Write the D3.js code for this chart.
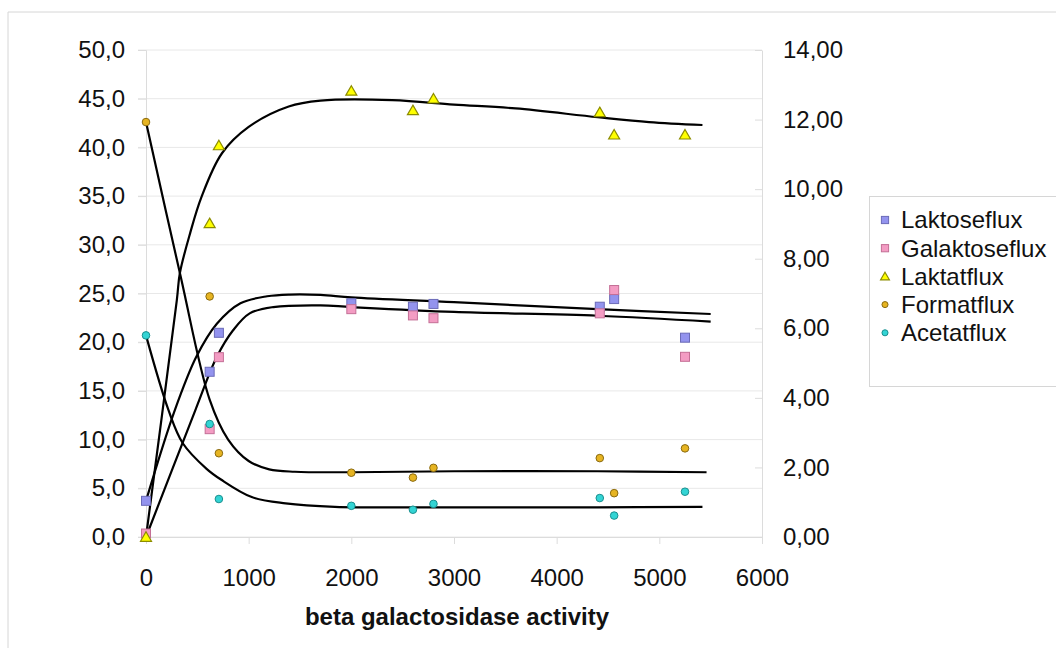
<!DOCTYPE html>
<html>
<head>
<meta charset="utf-8">
<script src="https://cdn.jsdelivr.net/npm/d3@7"></script>
<style>
    body { margin: 0; background: #fff; }
    svg { font-family: "Liberation Sans", Arial, sans-serif; }
</style>
</head>
<body>
<div id="chart"></div>
<script>
// Measured points (x = beta galactosidase activity)
const activity = [0, 620, 710, 2000, 2600, 2800, 4420, 4560, 5250];
// right axis series
const laktoseflux = [1.04, 4.75, 5.87, 6.72, 6.62, 6.70, 6.62, 6.84, 5.73];
const galaktoseflux = [0.1, 3.10, 5.17, 6.55, 6.37, 6.29, 6.43, 7.10, 5.18];
// left axis series
const laktatflux = [0.0, 32.2, 40.2, 45.8, 43.8, 45.0, 43.6, 41.3, 41.3];
const formatflux = [42.6, 24.7, 8.6, 6.6, 6.1, 7.1, 8.1, 4.5, 9.1];
const acetatflux = [20.7, 11.6, 3.9, 3.2, 2.8, 3.4, 4.0, 2.2, 4.65];

// Fitted curves
const laktatFitX = [0, 300, 330, 430, 540, 740, 1000, 1390, 1700, 2400, 3000, 3600, 4400, 4900, 5420];
const laktatFitY = [0, 24.3, 27.1, 31.2, 34.9, 39.4, 42.1, 44.2, 44.8, 44.85, 44.4, 44.0, 43.1, 42.6, 42.3];
const formatFitX = [0, 330, 620, 800, 1000, 1200, 1450, 2000, 3000, 4400, 5460];
const formatFitY = [42.6, 27.1, 14.1, 10.0, 7.8, 6.95, 6.7, 6.65, 6.75, 6.75, 6.65];
const acetatFitX = [0, 220, 360, 590, 730, 1030, 1360, 1840, 3000, 4400, 5420];
const acetatFitY = [20.7, 13.0, 9.6, 7.0, 5.9, 4.1, 3.45, 3.1, 3.05, 3.05, 3.1];
const laktoseFitX = [0, 280, 490, 690, 920, 1180, 1400, 1700, 2000, 3000, 4400, 5500];
const laktoseFitY = [1.04, 3.64, 5.18, 6.13, 6.72, 6.92, 6.97, 6.96, 6.89, 6.75, 6.55, 6.41];
const galaktoseFitX = [0, 480, 690, 850, 1010, 1240, 1700, 2000, 3000, 4400, 5500];
const galaktoseFitY = [0, 3.64, 5.18, 5.95, 6.43, 6.61, 6.66, 6.61, 6.47, 6.36, 6.19];

const leftTicks = d3.range(0, 50.1, 5);
const rightTicks = d3.range(0, 14.1, 2);
const xTicks = d3.range(0, 6001, 1000);

const width = 1056, height = 648;
const margin = {top: 50, right: 294, bottom: 111, left: 146};

const svg = d3.select("#chart").append("svg")
    .attr("width", width)
    .attr("height", height);

// chart area border (top and left edges visible)
svg.append("path")
    .attr("d", `M8,${height}V12H${width}`)
    .attr("fill", "none")
    .attr("stroke", "#d6d6d6");

const x = d3.scaleLinear().domain([0, 6000]).range([margin.left, width - margin.right]);
const yL = d3.scaleLinear().domain([0, 50]).range([height - margin.bottom, margin.top]);
const yR = d3.scaleLinear().domain([0, 14]).range([height - margin.bottom, margin.top]);

const locale = d3.formatLocale({decimal: ",", thousands: "", grouping: [3], currency: ["", ""]});

// gridlines
svg.append("g")
    .selectAll("line")
    .data(leftTicks)
    .enter().append("line")
    .attr("x1", margin.left - 8)
    .attr("x2", width - margin.right)
    .attr("y1", d => yL(d))
    .attr("y2", d => yL(d))
    .attr("stroke", "#e8e8e8");

// left axis
const gl = svg.append("g")
    .attr("transform", `translate(${margin.left},0)`)
    .call(d3.axisLeft(yL).tickValues(leftTicks).tickFormat(locale.format(".1f")).tickSize(8).tickPadding(13));

// right axis with inner ticks
const gr = svg.append("g")
    .attr("transform", `translate(${width - margin.right},0)`)
    .call(d3.axisRight(yR).tickValues(rightTicks).tickFormat(locale.format(".2f")).tickSizeInner(-7).tickSizeOuter(0).tickPadding(21));

// bottom axis
const gx = svg.append("g")
    .attr("transform", `translate(0,${height - margin.bottom})`)
    .call(d3.axisBottom(x).tickValues(xTicks).tickFormat(d3.format("d")).tickSize(7).tickPadding(25));

[gl, gr, gx].forEach(g => {
    g.selectAll("path, line").attr("stroke", "#dcdcdc");
    g.selectAll("text").attr("fill", "#111").style("font-size", "24px");
});

// x axis title
svg.append("text")
    .attr("x", (margin.left + width - margin.right) / 2 + 3)
    .attr("y", 625)
    .attr("text-anchor", "middle")
    .style("font-size", "24px")
    .style("font-weight", "bold")
    .attr("fill", "#111")
    .text("beta galactosidase activity");

// fitted curves
const curves = [
    {xs: laktatFitX, ys: laktatFitY, y: yL},
    {xs: formatFitX, ys: formatFitY, y: yL},
    {xs: acetatFitX, ys: acetatFitY, y: yL},
    {xs: laktoseFitX, ys: laktoseFitY, y: yR},
    {xs: galaktoseFitX, ys: galaktoseFitY, y: yR}
];
curves.forEach(c => {
    const line = d3.line()
        .x((d, i) => x(c.xs[i]))
        .y(d => c.y(d))
        .curve(d3.curveCatmullRom.alpha(0.5));
    svg.append("path")
        .attr("d", line(c.ys))
        .attr("fill", "none")
        .attr("stroke", "#000")
        .attr("stroke-width", 2.2);
});

// series definitions
const series = [
    {name: "Laktoseflux", values: laktoseflux, y: yR, shape: "square", fill: "#9393ee", stroke: "#6b6bb8"},
    {name: "Galaktoseflux", values: galaktoseflux, y: yR, shape: "square", fill: "#f39cc3", stroke: "#c46f96"},
    {name: "Laktatflux", values: laktatflux, y: yL, shape: "triangle", fill: "#ffff00", stroke: "#8c8c00"},
    {name: "Formatflux", values: formatflux, y: yL, shape: "circle", fill: "#e6b422", stroke: "#8a6a10"},
    {name: "Acetatflux", values: acetatflux, y: yL, shape: "circle", fill: "#33d4d4", stroke: "#1a8f8f"}
];

function drawMarker(g, s, cx, cy, scale) {
    if (s.shape === "square") {
        const h = 4.5 * scale;
        g.append("rect").attr("x", cx - h).attr("y", cy - h).attr("width", 2 * h).attr("height", 2 * h)
            .attr("fill", s.fill).attr("stroke", s.stroke).attr("stroke-width", 1);
    } else if (s.shape === "triangle") {
        const w = 5.5 * scale, h = 9.5 * scale;
        g.append("path")
            .attr("d", `M${cx},${cy - h * 0.55}L${cx + w},${cy + h * 0.45}L${cx - w},${cy + h * 0.45}Z`)
            .attr("fill", s.fill).attr("stroke", s.stroke).attr("stroke-width", 1.2);
    } else {
        g.append("circle").attr("cx", cx).attr("cy", cy).attr("r", 3.8 * scale)
            .attr("fill", s.fill).attr("stroke", s.stroke).attr("stroke-width", 1);
    }
}

// data points
series.forEach(s => {
    const g = svg.append("g");
    s.values.forEach((v, i) => drawMarker(g, s, x(activity[i]), s.y(v), 1));
});

// legend
const legend = svg.append("g");
legend.append("rect")
    .attr("x", 869.5).attr("y", 196.5)
    .attr("width", 200).attr("height", 190)
    .attr("fill", "#fff").attr("stroke", "#d6d6d6");
series.forEach((s, i) => {
    const cy = 220 + i * 28.2;
    drawMarker(legend, s, 885, cy, 0.8);
    legend.append("text")
        .attr("x", 901)
        .attr("y", cy)
        .attr("dy", "0.35em")
        .style("font-size", "24px")
        .attr("fill", "#111")
        .text(s.name);
});
</script>
</body>
</html>
